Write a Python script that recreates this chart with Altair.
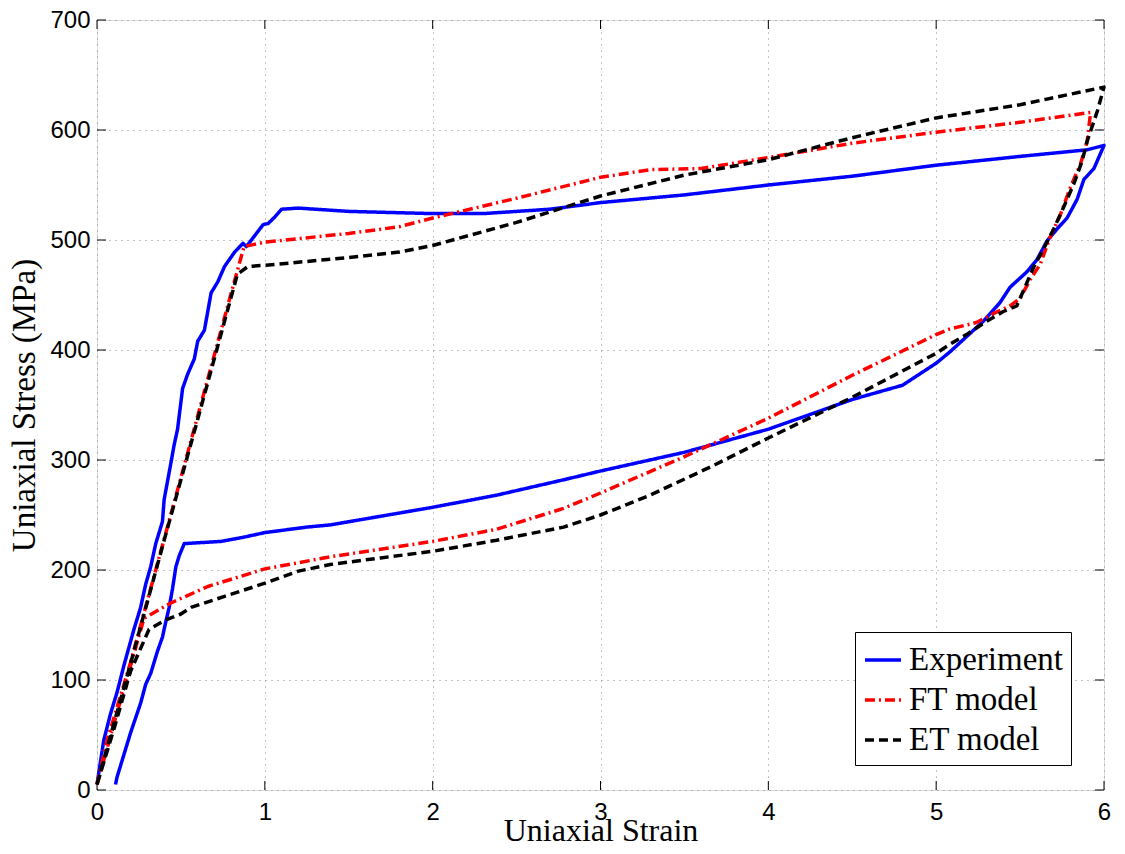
import altair as alt
import pandas as pd

# ---------------- data ----------------
exp_strain = [0.00, 0.04, 0.08, 0.12, 0.16, 0.22, 0.26, 0.29, 0.32, 0.35, 0.39, 0.40, 0.44, 0.46,
              0.48, 0.51, 0.54, 0.58, 0.60, 0.64, 0.66, 0.68, 0.72, 0.76, 0.82, 0.87, 0.89, 0.96,
              0.99, 1.02, 1.06, 1.10, 1.20, 1.50, 2.00, 2.30, 2.50, 2.70, 3.00, 3.50, 4.00, 4.50,
              5.00, 5.50, 5.90, 6.00,
              5.94, 5.88, 5.84, 5.78, 5.72, 5.66, 5.60, 5.54, 5.44, 5.38, 5.28, 5.18, 5.08, 5.00,
              4.80, 4.50, 4.00, 3.50, 3.00, 2.78, 2.38, 2.00, 1.39, 1.25, 1.00, 0.88, 0.74, 0.52,
              0.49, 0.47, 0.45, 0.43, 0.41, 0.39, 0.36, 0.32, 0.29, 0.26, 0.20, 0.16, 0.12, 0.11]
exp_stress = [5, 45, 69, 89, 113, 146, 166, 187, 203, 224, 244, 264, 297, 314,
              328, 365, 378, 392, 408, 418, 435, 452, 462, 476, 489, 497, 494, 508,
              514, 515, 521, 528, 529, 526, 524, 524, 526, 528, 534, 541, 550, 558,
              568, 576, 582, 586,
              565, 555, 537, 520, 510, 499, 482, 471, 457, 443, 426, 412, 398, 388,
              368, 355, 328, 307, 290, 282, 268, 257, 241, 239, 234, 230, 226, 224,
              213, 203, 183, 166, 153, 139, 126, 106, 96, 79, 52, 32, 12, 5]

ft_strain = [0.00, 0.06, 0.20, 0.40, 0.60, 0.80, 0.876, 1.00, 1.50, 1.80, 2.00, 2.50, 3.00, 3.30,
             3.60, 4.00, 4.50, 5.00, 5.50, 5.92,
             5.90, 5.86, 5.80, 5.74, 5.68, 5.62, 5.56, 5.50, 5.44, 5.34, 5.24, 5.08, 5.00,
             4.50, 4.00, 3.50, 3.00, 2.78, 2.38, 2.00, 1.39, 1.00, 0.66, 0.44, 0.28, 0.20, 0.10, 0.00]
ft_stress = [5, 45, 116, 228, 340, 452, 494, 498, 506, 512, 520, 538, 557, 564,
             565, 575, 588, 598, 607, 616,
             590, 569, 548, 523, 503, 478, 464, 447, 440, 433, 425, 419, 414,
             377, 338, 303, 270, 256, 237, 226, 212, 201, 185, 170, 156, 113, 60, 5]

et_strain = [0.00, 0.20, 0.40, 0.60, 0.837, 0.90, 1.00, 1.50, 1.80, 2.00, 2.50, 3.00, 3.50, 4.00,
             4.50, 5.00, 5.50, 6.00,
             5.96, 5.90, 5.87, 5.82, 5.76, 5.70, 5.64, 5.58, 5.52, 5.48, 5.40, 5.30, 5.18, 5.08,
             5.00, 4.50, 4.00, 3.66, 3.28, 3.00, 2.78, 2.38, 2.00, 1.69, 1.39, 1.20, 1.00, 0.76,
             0.56, 0.50, 0.40, 0.31, 0.20, 0.10, 0.00]
et_stress = [5, 115, 227, 337, 469, 476, 477, 484, 489, 495, 516, 540, 559, 573,
             593, 611, 623, 639,
             617, 590, 572, 551, 530, 510, 492, 475, 454, 440, 435, 426, 414, 405,
             397, 357, 320, 294, 267, 250, 239, 227, 217, 211, 205, 199, 188, 176,
             166, 160, 154, 146, 108, 55, 5]

series_names = ["Experiment", "FT model", "ET model"]
series_colors = ["#0000ff", "#ff0000", "#000000"]
series_dashes = [[1, 0], [10, 4, 2, 4], [9, 5]]

x_ticks = [0, 1, 2, 3, 4, 5, 6]
y_ticks = [0, 100, 200, 300, 400, 500, 600, 700]

rows = []
for name, xs, ys in [("Experiment", exp_strain, exp_stress),
                     ("FT model", ft_strain, ft_stress),
                     ("ET model", et_strain, et_stress)]:
    for i, (a, b) in enumerate(zip(xs, ys)):
        rows.append({"series": name, "strain": a, "stress": b, "idx": i})
df = pd.DataFrame(rows)

W, H = 1007, 770
xscale = alt.Scale(domain=[0, 6], nice=False, zero=False)
yscale = alt.Scale(domain=[0, 700], nice=False, zero=False)

xaxis = alt.Axis(values=x_ticks, format="d", title="Uniaxial Strain", ticks=False, grid=True,
                 gridDash=[1, 5], gridColor="#8a8a8a", gridWidth=1,
                 labelFont="Liberation Sans", labelFontSize=24, labelColor="black",
                 labelPadding=10, titleFont="Liberation Serif", titleFontSize=32,
                 titleFontWeight="normal", titleColor="black", titlePadding=-9,
                 domain=False, labelFlush=False, labelOverlap=False)
yaxis = alt.Axis(values=y_ticks, format="d", title="Uniaxial Stress (MPa)", ticks=False, grid=True,
                 gridDash=[1, 5], gridColor="#8a8a8a", gridWidth=1,
                 labelFont="Liberation Sans", labelFontSize=24, labelColor="black",
                 labelPadding=7, titleFont="Liberation Serif", titleFontSize=33,
                 titleFontWeight="normal", titleColor="black", titlePadding=8,
                 domain=False, labelFlush=False, labelOverlap=False)

lines = alt.Chart(df).mark_line(strokeWidth=3.5, strokeJoin="round").encode(
    x=alt.X("strain:Q", scale=xscale, axis=xaxis),
    y=alt.Y("stress:Q", scale=yscale, axis=yaxis),
    color=alt.Color("series:N", scale=alt.Scale(domain=series_names, range=series_colors),
                    legend=alt.Legend(title=None, orient="none", legendX=758, legendY=612,
                                      direction="vertical", symbolType="stroke",
                                      symbolSize=1300, symbolStrokeWidth=3.5,
                                      labelFont="Liberation Serif", labelFontSize=33,
                                      labelColor="black", labelLimit=400,
                                      rowPadding=3, padding=8, strokeColor="black",
                                      fillColor="white", labelOffset=6)),
    strokeDash=alt.StrokeDash("series:N",
                              scale=alt.Scale(domain=series_names, range=series_dashes),
                              legend=None),
    order="idx:Q",
)

ydf = pd.DataFrame({"v": y_ticks})
xdf = pd.DataFrame({"v": x_ticks})
tick_left = alt.Chart(ydf).mark_rule(color="black", strokeWidth=1).encode(
    y=alt.Y("v:Q", scale=yscale), x=alt.value(0), x2=alt.value(9))
tick_right = alt.Chart(ydf).mark_rule(color="black", strokeWidth=1).encode(
    y=alt.Y("v:Q", scale=yscale), x=alt.value(W - 9), x2=alt.value(W))
tick_bottom = alt.Chart(xdf).mark_rule(color="black", strokeWidth=1).encode(
    x=alt.X("v:Q", scale=xscale), y=alt.value(H - 9), y2=alt.value(H))
tick_top = alt.Chart(xdf).mark_rule(color="black", strokeWidth=1).encode(
    x=alt.X("v:Q", scale=xscale), y=alt.value(0), y2=alt.value(9))

chart = alt.layer(lines, tick_left, tick_right, tick_bottom, tick_top).properties(
    width=W, height=H,
    autosize=alt.AutoSizeParams(type="none"),
    padding={"left": 89, "top": 12, "right": 12, "bottom": 56},
).configure_view(stroke="black", strokeWidth=1.2, fill="white").configure(background="white")

chart.save("out.html", embed_options={"renderer": "svg", "actions": False})
